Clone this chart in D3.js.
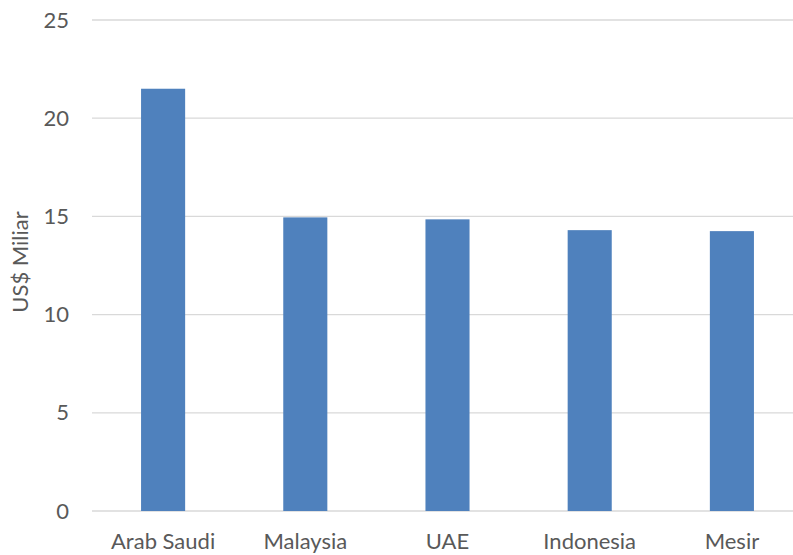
<!DOCTYPE html>
<html>
<head>
<meta charset="utf-8">
<script src="https://cdn.jsdelivr.net/npm/d3@7"></script>
<style>
  body { margin: 0; background: #fff; }
  text { font-family: Lato, sans-serif; fill: #595959; }
</style>
</head>
<body>
<div class="canvas"></div>
<script>
// data
const countries = ['Arab Saudi', 'Malaysia', 'UAE', 'Indonesia', 'Mesir']
const values = [21.5, 14.95, 14.85, 14.3, 14.25]
const yTicks = [0, 5, 10, 15, 20, 25]

const width = 793
const height = 555
const margin = { top: 20, right: -10, bottom: 44, left: 92 }
const graphWidth = width - margin.left - margin.right
const graphHeight = height - margin.top - margin.bottom
const fontSize = '22px'

const svg = d3.select('.canvas')
    .append('svg')
    .attr('width', width)
    .attr('height', height)

const graph = svg.append('g')
    .attr('transform', `translate(${margin.left}, ${margin.top})`)

// scales
const x = d3.scaleBand()
    .domain(countries)
    .range([0, graphWidth])
    .paddingInner(0.69)
    .paddingOuter(0.345)

const y = d3.scaleLinear()
    .domain([0, 25])
    .range([graphHeight, 0])

// gridlines
graph.append('g')
    .selectAll('line')
    .data(yTicks).enter()
    .append('line')
    .attr('x1', 0)
    .attr('x2', width - margin.left)
    .attr('y1', d => y(d))
    .attr('y2', d => y(d))
    .attr('stroke', '#d9d9d9')
    .attr('stroke-width', 1.3)

// bars
graph.append('g')
    .selectAll('rect')
    .data(values).enter()
    .append('rect')
    .attr('x', (d, i) => x(countries[i]))
    .attr('y', d => y(d))
    .attr('width', x.bandwidth())
    .attr('height', d => graphHeight - y(d))
    .attr('fill', '#4f81bd')

// y axis
const yAxis = d3.axisLeft(y).tickValues(yTicks).tickSize(0).tickPadding(23)
const yAxisGroup = graph.append('g').call(yAxis)
yAxisGroup.select('.domain').remove()
yAxisGroup.selectAll('text')
    .style('font-size', fontSize)
    .style('font-family', 'Lato, sans-serif')
    .attr('fill', '#595959')

// x axis
const xAxis = d3.axisBottom(x).tickSize(0).tickPadding(22)
const xAxisGroup = graph.append('g')
    .attr('transform', `translate(0, ${graphHeight})`)
    .call(xAxis)
xAxisGroup.select('.domain').remove()
xAxisGroup.selectAll('text')
    .style('font-size', fontSize)
    .style('font-family', 'Lato, sans-serif')
    .attr('fill', '#595959')

// y label
svg.append('text')
    .attr('transform', 'translate(28, 262) rotate(-90)')
    .attr('text-anchor', 'middle')
    .style('font-size', fontSize)
    .text('US$ Miliar')
</script>
</body>
</html>
